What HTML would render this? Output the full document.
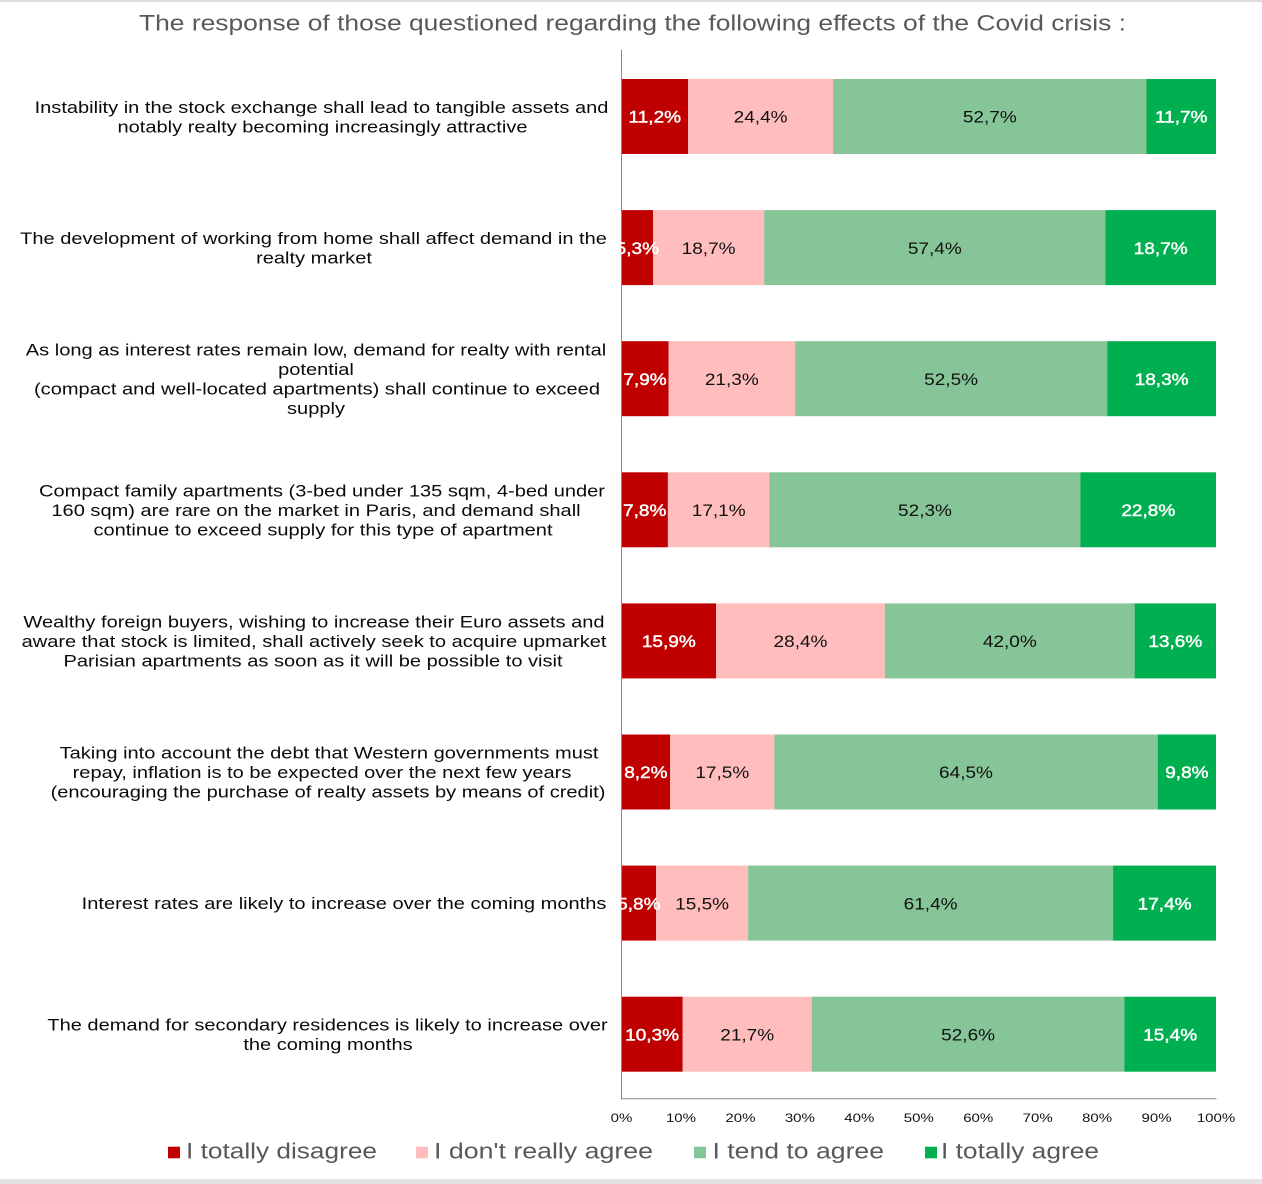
<!DOCTYPE html>
<html>
<head>
<meta charset="utf-8">
<style>
  html, body { margin: 0; padding: 0; background: #ffffff; }
  body { width: 1262px; height: 1184px; overflow: hidden; }
  svg { display: block; }
  .cat { font-family: "Liberation Sans", Arial, sans-serif; font-size: 16.3px; fill: #0a0a0a; }
  .dl { font-family: "Liberation Sans", Arial, sans-serif; font-size: 17px; }
  .w { fill: #ffffff; stroke: #ffffff; stroke-width: 0.45px; }
  .b { fill: #111111; }
  .tick { font-family: "Liberation Sans", Arial, sans-serif; font-size: 12px; fill: #111; }
  .title { font-family: "Liberation Sans", Arial, sans-serif; font-size: 22px; fill: #595959; }
  .leg { font-family: "Liberation Sans", Arial, sans-serif; font-size: 22.5px; fill: #595959; }
</style>
</head>
<body>
<svg width="1262" height="1184" viewBox="0 0 1262 1184" xmlns="http://www.w3.org/2000/svg">
  <rect x="0" y="0" width="1262" height="1184" fill="#ffffff"/>
  <rect x="0" y="0" width="1262" height="2" fill="#dcdcdc"/>
  <rect x="0" y="1179" width="1262" height="5" fill="#e3e3e3"/>

  <!-- Title -->
  <text class="title" x="139" y="30.7" textLength="987" lengthAdjust="spacingAndGlyphs">The response of those questioned regarding the following effects of the Covid crisis :</text>

  <!-- Bars -->
  <rect x="621.5" y="79" width="66.6" height="75" fill="#C00000"/>
  <rect x="688.1" y="79" width="145.1" height="75" fill="#FFBDBD"/>
  <rect x="833.1" y="79" width="313.3" height="75" fill="#86C597"/>
  <rect x="1146.4" y="79" width="69.6" height="75" fill="#00B050"/>

  <rect x="621.5" y="210.1" width="31.5" height="75" fill="#C00000"/>
  <rect x="653.0" y="210.1" width="111.2" height="75" fill="#FFBDBD"/>
  <rect x="764.2" y="210.1" width="341.2" height="75" fill="#86C597"/>
  <rect x="1105.4" y="210.1" width="110.6" height="75" fill="#00B050"/>

  <rect x="621.5" y="341.2" width="47.0" height="75" fill="#C00000"/>
  <rect x="668.5" y="341.2" width="126.6" height="75" fill="#FFBDBD"/>
  <rect x="795.1" y="341.2" width="312.1" height="75" fill="#86C597"/>
  <rect x="1107.2" y="341.2" width="108.8" height="75" fill="#00B050"/>

  <rect x="621.5" y="472.3" width="46.4" height="75" fill="#C00000"/>
  <rect x="667.9" y="472.3" width="101.6" height="75" fill="#FFBDBD"/>
  <rect x="769.5" y="472.3" width="311.0" height="75" fill="#86C597"/>
  <rect x="1080.5" y="472.3" width="135.5" height="75" fill="#00B050"/>

  <rect x="621.5" y="603.4" width="94.5" height="75" fill="#C00000"/>
  <rect x="716.0" y="603.4" width="168.9" height="75" fill="#FFBDBD"/>
  <rect x="884.9" y="603.4" width="249.7" height="75" fill="#86C597"/>
  <rect x="1134.6" y="603.4" width="81.4" height="75" fill="#00B050"/>

  <rect x="621.5" y="734.5" width="48.7" height="75" fill="#C00000"/>
  <rect x="670.2" y="734.5" width="104.1" height="75" fill="#FFBDBD"/>
  <rect x="774.3" y="734.5" width="383.4" height="75" fill="#86C597"/>
  <rect x="1157.7" y="734.5" width="58.3" height="75" fill="#00B050"/>

  <rect x="621.5" y="865.6" width="34.5" height="75" fill="#C00000"/>
  <rect x="656.0" y="865.6" width="92.1" height="75" fill="#FFBDBD"/>
  <rect x="748.1" y="865.6" width="365.0" height="75" fill="#86C597"/>
  <rect x="1113.1" y="865.6" width="102.9" height="75" fill="#00B050"/>

  <rect x="621.5" y="996.7" width="61.2" height="75" fill="#C00000"/>
  <rect x="682.7" y="996.7" width="129.0" height="75" fill="#FFBDBD"/>
  <rect x="811.7" y="996.7" width="312.7" height="75" fill="#86C597"/>
  <rect x="1124.4" y="996.7" width="91.6" height="75" fill="#00B050"/>

  <!-- Axes -->
  <line x1="621.5" y1="49.5" x2="621.5" y2="1099" stroke="#898989" stroke-width="1"/>
  <line x1="621" y1="1098.7" x2="1216.5" y2="1098.7" stroke="#898989" stroke-width="1"/>

  <!-- Data labels -->
  <g class="dl" text-anchor="middle">
    <text class="w" transform="translate(654.8,122.7) scale(1.12,1)">11,2%</text>
    <text class="b" transform="translate(760.6,122.7) scale(1.12,1)">24,4%</text>
    <text class="b" transform="translate(989.8,122.7) scale(1.12,1)">52,7%</text>
    <text class="w" transform="translate(1181.2,122.7) scale(1.12,1)">11,7%</text>

    <text class="w" transform="translate(637.3,253.8) scale(1.12,1)">5,3%</text>
    <text class="b" transform="translate(708.6,253.8) scale(1.12,1)">18,7%</text>
    <text class="b" transform="translate(934.8,253.8) scale(1.12,1)">57,4%</text>
    <text class="w" transform="translate(1160.7,253.8) scale(1.12,1)">18,7%</text>

    <text class="w" transform="translate(645.0,384.9) scale(1.12,1)">7,9%</text>
    <text class="b" transform="translate(731.8,384.9) scale(1.12,1)">21,3%</text>
    <text class="b" transform="translate(951.1,384.9) scale(1.12,1)">52,5%</text>
    <text class="w" transform="translate(1161.6,384.9) scale(1.12,1)">18,3%</text>

    <text class="w" transform="translate(644.7,516.0) scale(1.12,1)">7,8%</text>
    <text class="b" transform="translate(718.7,516.0) scale(1.12,1)">17,1%</text>
    <text class="b" transform="translate(925.0,516.0) scale(1.12,1)">52,3%</text>
    <text class="w" transform="translate(1148.3,516.0) scale(1.12,1)">22,8%</text>

    <text class="w" transform="translate(668.8,647.1) scale(1.12,1)">15,9%</text>
    <text class="b" transform="translate(800.5,647.1) scale(1.12,1)">28,4%</text>
    <text class="b" transform="translate(1009.8,647.1) scale(1.12,1)">42,0%</text>
    <text class="w" transform="translate(1175.3,647.1) scale(1.12,1)">13,6%</text>

    <text class="w" transform="translate(645.9,778.2) scale(1.12,1)">8,2%</text>
    <text class="b" transform="translate(722.3,778.2) scale(1.12,1)">17,5%</text>
    <text class="b" transform="translate(966.0,778.2) scale(1.12,1)">64,5%</text>
    <text class="w" transform="translate(1186.9,778.2) scale(1.12,1)">9,8%</text>

    <text class="w" transform="translate(638.8,909.3) scale(1.12,1)">5,8%</text>
    <text class="b" transform="translate(702.1,909.3) scale(1.12,1)">15,5%</text>
    <text class="b" transform="translate(930.6,909.3) scale(1.12,1)">61,4%</text>
    <text class="w" transform="translate(1164.6,909.3) scale(1.12,1)">17,4%</text>

    <text class="w" transform="translate(652.1,1040.4) scale(1.12,1)">10,3%</text>
    <text class="b" transform="translate(747.2,1040.4) scale(1.12,1)">21,7%</text>
    <text class="b" transform="translate(968.1,1040.4) scale(1.12,1)">52,6%</text>
    <text class="w" transform="translate(1170.2,1040.4) scale(1.12,1)">15,4%</text>
  </g>

  <!-- Category labels -->
  <g class="cat" text-anchor="middle">
    <text transform="translate(321.5,112.75) scale(1.23,1)">Instability in the stock exchange shall lead to tangible assets and</text>
    <text transform="translate(322.5,132.25) scale(1.23,1)">notably realty becoming increasingly attractive</text>

    <text transform="translate(313.5,243.85) scale(1.23,1)">The development of working from home shall affect demand in the</text>
    <text transform="translate(314,263.35) scale(1.23,1)">realty market</text>

    <text transform="translate(316,355.45) scale(1.23,1)">As long as interest rates remain low, demand for realty with rental</text>
    <text transform="translate(316,374.95) scale(1.23,1)">potential</text>
    <text transform="translate(317,394.45) scale(1.23,1)">(compact and well-located apartments) shall continue to exceed</text>
    <text transform="translate(316,413.95) scale(1.23,1)">supply</text>

    <text transform="translate(322,496.3) scale(1.23,1)">Compact family apartments (3-bed under 135 sqm, 4-bed under</text>
    <text transform="translate(316,515.8) scale(1.23,1)">160 sqm) are rare on the market in Paris, and demand shall</text>
    <text transform="translate(323,535.3) scale(1.23,1)">continue to exceed supply for this type of apartment</text>

    <text transform="translate(314,627.4) scale(1.23,1)">Wealthy foreign buyers, wishing to increase their Euro assets and</text>
    <text transform="translate(314,646.9) scale(1.23,1)">aware that stock is limited, shall actively seek to acquire upmarket</text>
    <text transform="translate(313,666.4) scale(1.23,1)">Parisian apartments as soon as it will be possible to visit</text>

    <text transform="translate(329,758.5) scale(1.23,1)">Taking into account the debt that Western governments must</text>
    <text transform="translate(322,778) scale(1.23,1)">repay, inflation is to be expected over the next few years</text>
    <text transform="translate(328,797.5) scale(1.23,1)">(encouraging the purchase of realty assets by means of credit)</text>

    <text transform="translate(344,909.1) scale(1.23,1)">Interest rates are likely to increase over the coming months</text>

    <text transform="translate(327.5,1030.45) scale(1.23,1)">The demand for secondary residences is likely to increase over</text>
    <text transform="translate(328,1049.95) scale(1.23,1)">the coming months</text>
  </g>

  <!-- Tick labels -->
  <g class="tick" text-anchor="middle">
    <text transform="translate(621.5,1122) scale(1.25,1)">0%</text>
    <text transform="translate(680.95,1122) scale(1.25,1)">10%</text>
    <text transform="translate(740.4,1122) scale(1.25,1)">20%</text>
    <text transform="translate(799.85,1122) scale(1.25,1)">30%</text>
    <text transform="translate(859.3,1122) scale(1.25,1)">40%</text>
    <text transform="translate(918.75,1122) scale(1.25,1)">50%</text>
    <text transform="translate(978.2,1122) scale(1.25,1)">60%</text>
    <text transform="translate(1037.65,1122) scale(1.25,1)">70%</text>
    <text transform="translate(1097.1,1122) scale(1.25,1)">80%</text>
    <text transform="translate(1156.55,1122) scale(1.25,1)">90%</text>
    <text transform="translate(1216,1122) scale(1.25,1)">100%</text>
  </g>

  <!-- Legend -->
  <rect x="168" y="1146.7" width="12" height="11.6" fill="#C00000"/>
  <text class="leg" x="186" y="1158.3" textLength="191" lengthAdjust="spacingAndGlyphs">I totally disagree</text>
  <rect x="416" y="1146.7" width="12" height="11.6" fill="#FFBDBD"/>
  <text class="leg" x="434" y="1158.3" textLength="219" lengthAdjust="spacingAndGlyphs">I don't really agree</text>
  <rect x="694" y="1146.7" width="12" height="11.6" fill="#86C597"/>
  <text class="leg" x="712.5" y="1158.3" textLength="171.5" lengthAdjust="spacingAndGlyphs">I tend to agree</text>
  <rect x="925" y="1146.7" width="12" height="11.6" fill="#00B050"/>
  <text class="leg" x="941" y="1158.3" textLength="158" lengthAdjust="spacingAndGlyphs">I totally agree</text>
</svg>
</body>
</html>
